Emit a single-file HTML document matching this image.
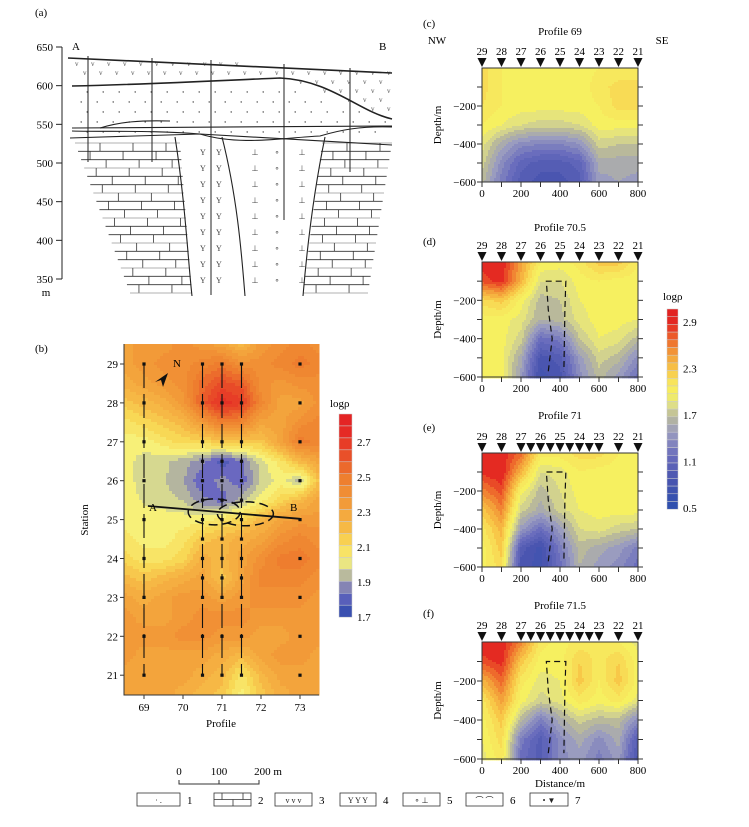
<!DOCTYPE html>
<html><head><meta charset="utf-8"><style>
body{margin:0;background:#fff;}
svg{display:block;font-family:"Liberation Serif",serif;}
</style></head><body>
<svg id="fig" width="749" height="827" viewBox="0 0 749 827" xmlns="http://www.w3.org/2000/svg">
<rect width="749" height="827" fill="#fff"/>
<g id="secA"></g>
<g id="mapB"></g>
<g id="profiles"></g>
<g id="legend"></g>
</svg>
<script>
// ---------- data ----------
const mapProfiles=[68.5,69,69.5,70,70.5,71,71.5,72,72.5,73,73.5];
const mapStations=[29.5,29,28.5,28,27.5,27,26.5,26,25.5,25,24.5,24,23.5,23,22.5,22,21.5,21,20.5];
const mapValues=[
[2.3,2.35,2.35,2.4,2.35,2.3,2.2,2.35,2.4,2.45,2.4],
[2.3,2.35,2.4,2.4,2.45,2.5,2.4,2.4,2.45,2.5,2.45],
[2.25,2.3,2.35,2.4,2.55,2.65,2.6,2.4,2.35,2.4,2.4],
[2.15,2.2,2.25,2.35,2.6,2.75,2.7,2.45,2.3,2.3,2.4],
[2.05,2.1,2.15,2.2,2.35,2.5,2.45,2.3,2.3,2.4,2.45],
[2.0,2.0,2.05,2.1,2.1,2.15,2.15,2.15,2.3,2.5,2.45],
[2.0,1.95,1.94,1.9,1.84,1.74,1.82,1.95,2.05,2.2,2.3],
[2.0,1.95,1.93,1.88,1.78,1.85,1.79,1.93,2.0,1.9,2.2],
[2.0,1.97,1.95,1.92,1.84,1.8,1.9,2.0,2.1,2.2,2.3],
[2.0,2.0,2.0,2.0,2.0,2.05,2.1,2.2,2.3,2.35,2.35],
[2.05,2.0,2.0,2.05,2.15,2.2,2.25,2.3,2.4,2.45,2.4],
[2.1,2.05,2.05,2.1,2.25,2.2,2.3,2.4,2.5,2.5,2.45],
[2.2,2.15,2.2,2.25,2.3,2.15,2.3,2.45,2.45,2.45,2.4],
[2.3,2.25,2.3,2.35,2.35,2.3,2.35,2.4,2.4,2.4,2.35],
[2.35,2.3,2.3,2.35,2.4,2.4,2.4,2.35,2.35,2.35,2.35],
[2.35,2.35,2.35,2.4,2.4,2.35,2.35,2.3,2.3,2.35,2.35],
[2.35,2.3,2.3,2.3,2.3,2.25,2.2,2.3,2.35,2.35,2.3],
[2.3,2.3,2.3,2.3,2.25,2.2,2.05,2.2,2.3,2.3,2.3],
[2.3,2.3,2.3,2.25,2.2,2.15,2.0,2.15,2.25,2.3,2.3]];
const mapTicksX=[69,70,71,72,73];
const mapTicksY=[29,28,27,26,25,24,23,22,21];
const mapBarLabels=[2.7,2.5,2.3,2.1,1.9,1.7];

const profDist=[0,100,200,300,400,500,600,700,800];
const profDepth=[0,100,200,300,400,500,600];
const prof69=[
[2.2,2.05,2.05,2.0,2.0,2.0,2.05,2.05,2.05],
[2.2,2.05,2.0,2.0,2.0,2.0,2.1,2.2,2.2],
[2.15,2.05,2.0,2.0,2.0,2.0,2.05,2.2,2.2],
[2.05,1.95,1.85,1.8,1.8,1.85,2.0,2.0,2.0],
[1.9,1.6,1.4,1.35,1.35,1.45,1.8,1.75,1.75],
[1.8,1.4,1.1,1.0,1.0,1.1,1.6,1.6,1.6],
[1.7,1.3,1.0,0.9,0.9,1.0,1.5,1.55,1.5]];
const prof705=[
[2.9,2.95,2.5,2.05,2.0,2.1,2.3,2.3,2.05],
[2.8,2.9,2.4,1.85,1.85,2.0,2.05,2.0,2.0],
[2.2,2.3,2.0,1.7,1.75,1.95,2.0,2.0,2.0],
[2.0,2.0,1.9,1.65,1.7,1.9,2.0,2.0,1.95],
[2.0,2.0,1.8,1.2,1.3,1.75,1.95,1.9,1.7],
[2.0,2.0,1.6,0.9,1.0,1.5,1.8,1.7,1.4],
[2.0,2.0,1.5,0.8,0.9,1.4,1.7,1.5,1.2]];
const prof71=[
[2.95,2.95,2.7,2.1,2.1,2.2,2.2,2.05,2.05],
[2.9,2.95,2.4,1.85,1.9,2.05,2.0,2.0,2.0],
[2.6,2.8,2.0,1.7,1.85,2.0,2.0,2.0,2.0],
[2.3,2.6,1.8,1.6,1.8,1.95,2.0,2.0,2.0],
[2.1,2.4,1.5,1.2,1.5,1.85,1.9,1.8,1.75],
[2.0,2.3,1.0,0.8,1.3,1.7,1.6,1.5,1.3],
[2.0,2.2,0.9,0.8,1.2,1.65,1.5,1.4,1.2]];
const prof715=[
[2.95,2.95,2.6,2.1,2.0,2.1,2.1,2.05,1.9],
[2.8,2.9,2.3,2.0,2.0,2.25,2.1,2.25,2.0],
[2.4,2.7,2.1,1.9,1.95,2.3,2.05,2.3,2.0],
[2.1,2.5,2.0,1.8,1.9,2.1,2.0,2.1,1.9],
[2.0,2.3,1.7,1.3,1.6,1.8,1.7,1.7,1.4],
[1.95,2.2,1.3,1.0,1.4,1.6,1.4,1.6,1.0],
[1.9,2.1,1.2,1.0,1.4,1.5,1.3,1.5,0.9]];
const stationsFull=[29,28,27,26,25,24,23,22,21];
const stationsDense=[29,28,27,26.5,26,25.5,25,24.5,24,23.5,23,22,21];
const profBarLabels=[2.9,2.3,1.7,1.1,0.5];
const distTicks=[0,200,400,600,800];
const depthTicks=[-200,-400,-600];
const sectionTicks=[650,600,550,500,450,400,350];

// ---------- helpers ----------
const NS="http://www.w3.org/2000/svg";
function mk(tag,attrs,parent,txt){const e=document.createElementNS(NS,tag);for(const k in attrs)e.setAttribute(k,attrs[k]);if(txt!==undefined)e.textContent=txt;parent.appendChild(e);return e;}
function hex(h){return[parseInt(h.slice(1,3),16),parseInt(h.slice(3,5),16),parseInt(h.slice(5,7),16)];}
function cmap(stops,v){if(v<=stops[0][0])return stops[0][1];for(let i=1;i<stops.length;i++){if(v<=stops[i][0]){const t=(v-stops[i-1][0])/(stops[i][0]-stops[i-1][0]);const a=hex(stops[i-1][1]),b=hex(stops[i][1]);return'rgb('+a.map((x,j)=>Math.round(x+(b[j]-x)*t)).join(',')+')';}}return stops[stops.length-1][1];}
const profStops=[[0.5,'#2c4fae'],[0.9,'#4a55b0'],[1.2,'#6a6dbd'],[1.5,'#9a9cbf'],[1.7,'#b9b99b'],[1.85,'#dede88'],[2.0,'#f6f060'],[2.15,'#f8e45c'],[2.3,'#f8c848'],[2.5,'#f3a03a'],[2.7,'#ee6a2c'],[2.9,'#e42a22'],[3.1,'#e11f20']];
const mapStops=[[1.7,'#3a50b0'],[1.8,'#6a68c0'],[1.87,'#a0a0a8'],[1.95,'#d6d890'],[2.0,'#f7f078'],[2.1,'#f8d855'],[2.2,'#f6b845'],[2.35,'#f29a38'],[2.5,'#ee7d2e'],[2.65,'#e84a28'],[2.8,'#e42424']];
function interp(g,fx,fy){const R=g.length,C=g[0].length;fx=Math.max(0,Math.min(C-1,fx));fy=Math.max(0,Math.min(R-1,fy));const x0=Math.min(C-2,Math.floor(fx)),y0=Math.min(R-2,Math.floor(fy));const tx=fx-x0,ty=fy-y0;return g[y0][x0]*(1-tx)*(1-ty)+g[y0][x0+1]*tx*(1-ty)+g[y0+1][x0]*(1-tx)*ty+g[y0+1][x0+1]*tx*ty;}
function q(v,step){return Math.round(v/step)*step;}

// ---------- panel (a): geologic section ----------
const A=document.getElementById('secA');
const sy=m=>47+(650-m)*(232/300);
mk('text',{x:35,y:16,'font-size':11,},A,'(a)');
mk('line',{x1:62,y1:sy(650),x2:62,y2:sy(350),stroke:'#222','stroke-width':1,},A);
sectionTicks.forEach(t=>{
 const l=mk('line',{x1:56,y1:sy(t),x2:62,y2:sy(t),stroke:'#222'},A);
 
 const tx=mk('text',{x:53,y:sy(t)+4,'font-size':11,'text-anchor':'end'},A,String(t));
 
});
mk('text',{x:46,y:296,'font-size':11,'text-anchor':'middle',},A,'m');
mk('text',{x:72,y:50,'font-size':11,},A,'A');
mk('text',{x:379,y:50,'font-size':11,},A,'B');
function bricks(xl0,xl1,xr0,xr1,y0,y1,tag){
 const g=mk('g',{},A);
 const rows=Math.round((y1-y0)/8.2);
 for(let i=0;i<=rows;i++){const y=y0+i*(y1-y0)/rows;const t=i/rows;const xl=xl0+(xl1-xl0)*t,xr=xr0+(xr1-xr0)*t;
  mk('line',{x1:xl,y1:y,x2:xr,y2:y,stroke:i%3==0?'#999':'#333','stroke-width':0.8},g);
  if(i<rows){for(let x=(i%2?xl+12:xl+25);x<xr-3;x+=33){mk('line',{x1:x,y1:y,x2:x,y2:y+(y1-y0)/rows,stroke:'#333','stroke-width':0.8},g);}}}
}
bricks(75,130,180,192,143,293,'limestone-left');
bricks(322,303,392,368,143,293,'limestone-right');
mk('path',{d:'M68,58 L392,73 L392,119 C360,112 330,80 280,78 C230,80 160,84 72,86 Z',fill:'#fff',stroke:'none',},A);
for(let y=66;y<118;y+=9)for(let x=75+(y%2)*8;x<390;x+=16){const yy=y;const lim=x<280?84:80+(x-280)*0.35;if(yy>58+(x-68)*0.046&&yy<lim){const t=mk('text',{x:x,y:yy,'font-size':7,fill:'#555'},A,'v');}}
for(let y=92;y<134;y+=10)for(let x=80+(y%20)*0.6;x<388;x+=16){const lim=x<280?84:80+(x-280)*0.35;if(y>lim+3){const c=mk('circle',{cx:x,cy:y,r:0.7,fill:'#444'},A);}}
for(let y=155;y<290;y+=16){[200,216].forEach((x,i)=>{const t=mk('text',{x:x+(y%32?0:-14),y:y,'font-size':8,fill:'#444'},A,'Y');});
 [255,277,302].forEach((x,i)=>{const t=mk('text',{x:x,y:y+((i+y/16)%2?0:6),'font-size':8,fill:'#444','text-anchor':'middle'},A,(i%2==0)?'⊥':'∘');});}
const lines=[
 'M68,58 L392,73','M72,86 C160,84 230,80 280,78 C330,80 360,112 392,119',
 'M72,128 L392,126','M72,131 C110,132 150,130 200,134 C240,146 280,138 320,136 C340,130 360,126 392,127',
 'M70,138 L200,134 L392,145','M100,128 C120,122 140,120 170,121',
 'M175,137 C185,200 188,260 192,296','M222,137 C238,200 242,260 245,296','M325,137 C312,200 306,260 303,296'];
lines.forEach((d,i)=>{const p=mk('path',{d:d,fill:'none',stroke:'#222','stroke-width':i<2?1.6:1.1},A);});
[[88,56,162],[152,58,162],[211,60,295],[284,64,220],[350,68,172]].forEach(d=>{const l=mk('line',{x1:d[0],y1:d[1],x2:d[0],y2:d[2],stroke:'#222','stroke-width':1},A);});

// ---------- panel (b): map ----------
const B=document.getElementById('mapB');
const mx=p=>144+(p-69)*39, my=s=>364+(29-s)*38.9;
mk('text',{x:35,y:352,'font-size':11,},B,'(b)');
const mapL=124,mapR=319,mapT=344,mapBot=695;
const mg=mk('g',{},B);
const step=3;
for(let y=mapT;y<mapBot;y+=step)for(let x=mapL;x<mapR;x+=step){
 const p=69+(x+step/2-144)/39, s=29-(y+step/2-364)/38.9;
 const fx=(p-mapProfiles[0])/0.5, fy=(mapStations[0]-s)/0.5;
 const v=q(interp(mapValues,fx,fy),0.05);
 const r=mk('rect',{x:x,y:y,width:step+0.5,height:step+0.5,fill:cmap(mapStops,v)},mg);
 
}
mk('path',{d:`M${mapL},${mapT} L${mapL},${mapBot} L${mapR},${mapBot}`,fill:'none',stroke:'#333','stroke-width':1,},B);
mapTicksX.forEach(t=>{const l=mk('line',{x1:mx(t),y1:mapBot,x2:mx(t),y2:mapBot+4,stroke:'#333'},B);
 const tx=mk('text',{x:mx(t),y:mapBot+16,'font-size':11,'text-anchor':'middle'},B,String(t));});
mapTicksY.forEach(t=>{const l=mk('line',{x1:mapL-4,y1:my(t),x2:mapL,y2:my(t),stroke:'#333'},B);
 const tx=mk('text',{x:mapL-6,y:my(t)+4,'font-size':11,'text-anchor':'end'},B,String(t));});
mk('text',{x:221,y:727,'font-size':11,'text-anchor':'middle',},B,'Profile');
mk('text',{x:0,y:0,'font-size':11,'text-anchor':'middle',transform:'translate(88,520) rotate(-90)',},B,'Station');
const surveyLines=[[69,stationsFull],[70.5,stationsDense],[71,stationsDense],[71.5,stationsDense],[73,stationsFull]];
surveyLines.forEach(([p,sts])=>{
 if(p!==73){const l=mk('line',{x1:mx(p),y1:my(29),x2:mx(p),y2:my(21),stroke:'#111','stroke-width':1.1,'stroke-dasharray':'24,6'},B);}
 sts.forEach(s=>{const r=mk('rect',{x:mx(p)-1.6,y:my(s)-1.6,width:3.2,height:3.2,fill:'#111'},B);});
});
mk('path',{d:'M155,382 L168,373 L163,387 L161,380 Z',fill:'#111',},B);
mk('text',{x:173,y:367,'font-size':11,},B,'N');
mk('line',{x1:mx(69.1),y1:my(25.35),x2:mx(73),y2:my(25.02),stroke:'#111','stroke-width':1.8,},B);
mk('text',{x:149,y:511,'font-size':11,},B,'A');
mk('text',{x:290,y:511,'font-size':11,},B,'B');
mk('ellipse',{cx:mx(70.8),cy:my(25.2),rx:26,ry:13,fill:'none',stroke:'#111','stroke-width':1.5,'stroke-dasharray':'9,5',},B);
mk('ellipse',{cx:mx(71.6),cy:my(25.15),rx:28,ry:12,fill:'none',stroke:'#111','stroke-width':1.5,'stroke-dasharray':'9,5',},B);
const mb=mk('g',{},B);
for(let i=0;i<17;i++){const v=2.85-i*0.0725;const r=mk('rect',{x:339,y:414+i*11.95,width:13,height:11.95,fill:cmap(mapStops,v),stroke:'#ccc','stroke-width':0.5},mb);}
mk('text',{x:330,y:407,'font-size':11,},B,'logρ');
mapBarLabels.forEach(v=>{const t=mk('text',{x:357,y:617-(v-1.7)*175+4,'font-size':11},B,v.toFixed(1));});

// ---------- panels c-f: profiles ----------
const P=document.getElementById('profiles');
const pL=482,pR=638,pW=156;
const panels=[
 {lab:'(c)',labY:27,title:'Profile 69',titleY:35,top:68,bot:182,data:prof69,st:stationsFull,box:false},
 {lab:'(d)',labY:245,title:'Profile 70.5',titleY:231,top:262,bot:377,data:prof705,st:stationsFull,box:true},
 {lab:'(e)',labY:431,title:'Profile 71',titleY:419,top:453,bot:567,data:prof71,st:stationsDense,box:true},
 {lab:'(f)',labY:617,title:'Profile 71.5',titleY:609,top:642,bot:759,data:prof715,st:stationsDense,box:true}];
const dx=d=>pL+d*pW/800;
panels.forEach((pn,idx)=>{
 const g=mk('g',{},P);
 const h=pn.bot-pn.top, dy=m=>pn.top+m*h/600;
 for(let y=pn.top;y<pn.bot;y+=2)for(let x=pL;x<pR;x+=2){
  const d=(x+1-pL)*800/pW, m=(y+1-pn.top)*600/h;
  const v=q(interp(pn.data,d/100,m/100),0.1);
  const r=mk('rect',{x:x,y:y,width:2.4,height:2.4,fill:cmap(profStops,v)},g);
  
 }
 mk('rect',{x:pL,y:pn.top,width:pW,height:h,fill:'none',stroke:'#333','stroke-width':1,},g);
 mk('text',{x:423,y:pn.labY,'font-size':11,},g,pn.lab);
 mk('text',{x:560,y:pn.titleY,'font-size':11,'text-anchor':'middle',},g,pn.title);
 pn.st.forEach((s,i)=>{
  const d=(29-s)*100;let dd=d;
  if(pn.st===stationsDense){dd=s>=27?d:(s<=22?d:200+(27-s)*100);}
  const x=dx(dd);
  const tr=mk('path',{d:`M${x-4.5},${pn.top-10} L${x+4.5},${pn.top-10} L${x},${pn.top-1} Z`,fill:'#111'},g);
  
  if(Number.isInteger(s)){const t=mk('text',{x:x,y:pn.top-13,'font-size':11,'text-anchor':'middle'},g,String(s));}
 });
 for(let m=100;m<=600;m+=100){[[pL-5,pL],[pR,pR+5]].forEach(a=>{const l=mk('line',{x1:a[0],y1:dy(m),x2:a[1],y2:dy(m),stroke:'#333'},g);});}
 depthTicks.forEach(t=>{const tx=mk('text',{x:pL-6,y:dy(-t)+4,'font-size':11,'text-anchor':'end'},g,'−'+Math.abs(t));});
 for(let d=0;d<=800;d+=100){const l=mk('line',{x1:dx(d),y1:pn.bot,x2:dx(d),y2:pn.bot+5,stroke:'#333'},g);}
 distTicks.forEach(t=>{const tx=mk('text',{x:dx(t),y:pn.bot+15,'font-size':11,'text-anchor':'middle'},g,String(t));});
 mk('text',{x:0,y:0,'font-size':11,'text-anchor':'middle',transform:`translate(${441},${(pn.top+pn.bot)/2}) rotate(-90)`,},g,'Depth/m');
 if(pn.box){const bx=mk('path',{d:`M${dx(340)},${dy(570)} L${dx(360)},${dy(400)} L${dx(340)},${dy(250)} L${dx(330)},${dy(100)} L${dx(430)},${dy(100)} L${dx(425)},${dy(250)} L${dx(420)},${dy(570)}`,fill:'none',stroke:'#111','stroke-width':1.2,'stroke-dasharray':'6,4'},g);}
});
mk('text',{x:437,y:44,'font-size':11,'text-anchor':'middle',},P,'NW');
mk('text',{x:662,y:44,'font-size':11,'text-anchor':'middle',},P,'SE');
mk('text',{x:560,y:787,'font-size':11,'text-anchor':'middle',},P,'Distance/m');
const pb=mk('g',{},P);
for(let i=0;i<26;i++){const v=3.05-i*0.1;const r=mk('rect',{x:667,y:309+i*7.7,width:11,height:7.7,fill:cmap(profStops,v),stroke:'#ccc','stroke-width':0.5},pb);}
mk('text',{x:663,y:300,'font-size':11,},P,'logρ');
profBarLabels.forEach(v=>{const t=mk('text',{x:683,y:508-(v-0.5)*77.5+4,'font-size':11},P,v.toFixed(1));});

// ---------- legend & scale ----------
const L=document.getElementById('legend');
mk('path',{d:'M179,780 L179,784 L259,784 L259,780 M219,780 L219,784',fill:'none',stroke:'#333',},L);
[['0',179],['100',219],['200 m',268]].forEach(a=>{const t=mk('text',{x:a[1],y:775,'font-size':11,'text-anchor':'middle'},L,a[0]);});
const items=[[137,180,'1','· .'],[214,251,'2',''],[275,312,'3','v  v  v'],[340,376,'4','Y  Y  Y'],[403,440,'5','∘   ⊥'],[466,503,'6','⌒  ⌒'],[530,568,'7','•  ▼']];
items.forEach(it=>{
 const g=mk('g',{},L);
 mk('rect',{x:it[0],y:793,width:it[1]-it[0],height:13,fill:'#fff',stroke:'#333','stroke-width':0.8},g);
 if(it[2]==='2'){mk('path',{d:`M${it[0]},799.5 L${it[1]},799.5 M${it[0]+8},793 L${it[0]+8},799.5 M${it[1]-8},793 L${it[1]-8},799.5 M${it[0]+19},799.5 L${it[0]+19},806`,stroke:'#333','stroke-width':0.8,fill:'none'},g);}
 else{mk('text',{x:(it[0]+it[1])/2,y:803,'font-size':8,'text-anchor':'middle',fill:'#222'},g,it[3]);}
 mk('text',{x:it[1]+7,y:804,'font-size':11},g,it[2]);
});
</script>
</body></html>
